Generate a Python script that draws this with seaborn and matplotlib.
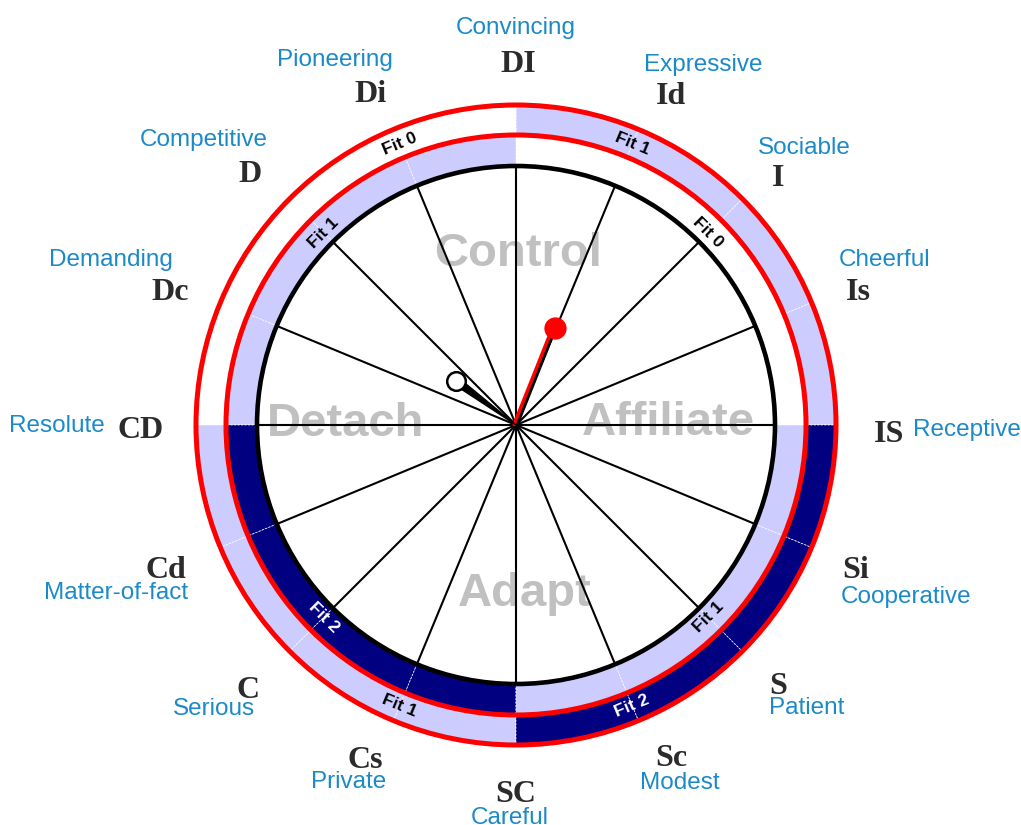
import numpy as np
import matplotlib
matplotlib.use("Agg")
import matplotlib.pyplot as plt
import matplotlib.transforms as mtransforms
from matplotlib.patches import Wedge, Circle
import seaborn as sns

# DISC styles, counter-clockwise from the right (0 deg), 22.5 deg apart
codes = ["IS", "Is", "I", "Id", "DI", "Di", "D", "Dc",
         "CD", "Cd", "C", "Cs", "SC", "Sc", "S", "Si"]
descriptors = ["Receptive", "Cheerful", "Sociable", "Expressive", "Convincing",
               "Pioneering", "Competitive", "Demanding", "Resolute",
               "Matter-of-fact", "Serious", "Private", "Careful", "Modest",
               "Patient", "Cooperative"]

# quadrants counter-clockwise from 0 deg, with the fit level of both rings
quadrants = ["Affiliate", "Control", "Detach", "Adapt"]
inner_fit = [0, 1, 2, 1]
outer_fit = [1, 0, 1, 2]

# the two pointers: angle (deg) and length (share of the inner circle radius)
pointer_angle = [68.3, 143.7]
pointer_len = [0.405, 0.287]

# ---- layout (units = pixels, wheel center at origin)
R = 259          # black circle
R_IN = 290       # inner red circle
R_OUT = 320      # outer red circle
CX, CY = 516, 425
fit_fill = {0: "white", 1: "#ccccff", 2: "#000080"}
fit_text = {0: "black", 1: "black", 2: "white"}
blue = "#1b8ac8"

# label anchor points in picture pixels (from top-left)
code_px = [(889, 430), (858, 288), (778, 175), (671, 92), (518, 60), (371, 90),
           (250, 170), (170, 289), (141, 427), (166, 567), (248, 687),
           (365, 756), (516, 790), (671, 755), (778, 682), (856, 566)]
desc_px = [(913, 427), (885, 257), (804, 145), (703, 62), (516, 25), (335, 57),
           (204, 137), (111, 257), (105, 423), (116, 590), (214, 706),
           (349, 779), (510, 815), (680, 780), (807, 705), (906, 594)]
desc_ha = ["left"] + ["center"] * 7 + ["right"] + ["center"] * 7
quad_px = [(668, 419), (518, 250), (346, 420), (525, 590)]


def to_data(p, lift=4):
    # va="center" puts glyphs a few pixels high, so anchor slightly lower
    return p[0] - CX, CY - p[1] - lift


sns.set_theme(style="white")
plt.rcParams["font.family"] = ["Liberation Sans", "DejaVu Sans"]

fig = plt.figure(figsize=(10.21, 8.25), dpi=100)
ax = fig.add_axes([0, 0, 1, 1])
ax.set_xlim(-CX, 1021 - CX)
ax.set_ylim(CY - 825, CY)
ax.set_aspect("equal")
ax.axis("off")

# rings, split in 22.5 deg cells
for q in range(4):
    for k in range(4):
        t1 = q * 90 + k * 22.5
        ax.add_patch(Wedge((0, 0), R_IN, t1, t1 + 22.5, width=R_IN - R,
                           facecolor=fit_fill[inner_fit[q]], edgecolor="white",
                           lw=0.5, ls=(0, (3, 2))))
        ax.add_patch(Wedge((0, 0), R_OUT, t1, t1 + 22.5, width=R_OUT - R_IN,
                           facecolor=fit_fill[outer_fit[q]], edgecolor="white",
                           lw=0.5, ls=(0, (3, 2))))

# fit labels
for q in range(4):
    for level, r, a in [(inner_fit[q], 272, q * 90 + 45),
                        (outer_fit[q], 304, q * 90 + 45 + (22.5 if q % 2 == 0 else -22.5))]:
        a = (a + 180) % 360 - 180
        rot = a - 90 if a > 0 else a + 90
        ax.text(r * np.cos(np.radians(a)), r * np.sin(np.radians(a)), f"Fit {level}",
                rotation=rot, rotation_mode="anchor", ha="center", va="center",
                fontsize=12.5, fontweight="bold", color=fit_text[level], zorder=5)

# circles
ax.add_patch(Circle((0, 0), R, facecolor="none", edgecolor="black", lw=3.3, zorder=4))
ax.add_patch(Circle((0, 0), R_IN, facecolor="none", edgecolor="red", lw=3.6, zorder=4))
ax.add_patch(Circle((0, 0), R_OUT, facecolor="none", edgecolor="red", lw=3.6, zorder=4))

# spokes
angles = np.arange(len(codes)) * 22.5
for a in angles:
    ax.plot([0, R * np.cos(np.radians(a))], [0, R * np.sin(np.radians(a))],
            color="black", lw=1.5, zorder=3, solid_capstyle="butt")

# quadrant names (under the spokes)
for name, p in zip(quadrants, quad_px):
    x, y = to_data(p)
    ax.text(x, y, name, ha="center", va="center", fontsize=34,
            fontweight="bold", color="#c0c0c0", zorder=2)

# code and descriptor labels
for i, (code, desc) in enumerate(zip(codes, descriptors)):
    x, y = to_data(code_px[i])
    ax.text(x, y, code, ha="center", va="center", fontsize=23,
            fontweight="bold", color="#2b2b2b", family=["Liberation Serif"])
    x, y = to_data(desc_px[i], lift=3)
    ax.text(x, y, desc, ha=desc_ha[i], va="center", fontsize=17.5, color=blue)

# pointers
px = [R * l * np.cos(np.radians(a)) for a, l in zip(pointer_angle, pointer_len)]
py = [R * l * np.sin(np.radians(a)) for a, l in zip(pointer_angle, pointer_len)]

# red pointer: red line with a black one beside it
a0 = np.radians(pointer_angle[0])
perp = (-np.sin(a0), np.cos(a0))
t_red = mtransforms.offset_copy(ax.transData, fig=fig, x=perp[0] * 1.3, y=perp[1] * 1.3, units="points")
t_blk = mtransforms.offset_copy(ax.transData, fig=fig, x=-perp[0] * 0.8, y=-perp[1] * 0.8, units="points")
ax.plot([0, px[0]], [0, py[0]], color="red", lw=2.8, transform=t_red, zorder=6)
ax.plot([0, px[0]], [0, py[0]], color="black", lw=2.0, transform=t_blk, zorder=6)

# white pointer: tapered black needle
a1 = np.radians(pointer_angle[1])
nx, ny = -np.sin(a1) * 4.0, np.cos(a1) * 4.0
ax.fill([0, px[1] + nx, px[1] - nx], [0, py[1] + ny, py[1] - ny], color="black", zorder=6)

sns.scatterplot(x=[px[0]], y=[py[0]], s=220, color="red", edgecolor="red", ax=ax, zorder=7)
sns.scatterplot(x=[px[1]], y=[py[1]], s=180, color="white", edgecolor="black",
                linewidth=1.8, ax=ax, zorder=7)

fig.savefig("out.png", dpi=100)
